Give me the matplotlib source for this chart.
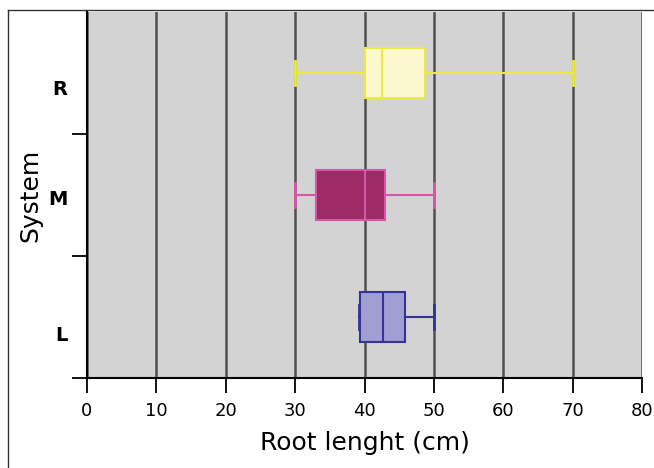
import numpy as np
import matplotlib.pyplot as plt
from matplotlib.lines import Line2D

# dados (cm)
sistemas = ['L', 'M', 'R']
whislo = [39.2, 30.0, 30.0]
q1 = [39.3, 33.0, 40.0]
med = [42.6, 40.0, 42.5]
q3 = [45.8, 43.0, 48.7]
whishi = [50.0, 50.0, 70.0]

cores_face = ['#9f9fd2', '#9c2b66', '#faf8cf']
cores_borda = ['#33339a', '#d657aa', '#ecea3c']

fig = plt.figure(figsize=(6.54, 4.68), dpi=100)
ax = fig.add_axes([0.133, 0.192, 0.849, 0.782])
ax.set_facecolor('#d3d3d3')

stats = []
for i in range(len(sistemas)):
    stats.append({'whislo': whislo[i], 'q1': q1[i], 'med': med[i],
                  'q3': q3[i], 'whishi': whishi[i], 'fliers': []})

pos = np.arange(len(sistemas))
bp = ax.bxp(stats, positions=pos, vert=False, widths=0.41, patch_artist=True,
            showfliers=False, zorder=3)
for i in range(len(sistemas)):
    bp['boxes'][i].set(facecolor=cores_face[i], edgecolor=cores_borda[i], linewidth=1.5)
    bp['medians'][i].set(color=cores_borda[i], linewidth=1.5)
    for w in bp['whiskers'][2*i:2*i+2]:
        w.set(color=cores_borda[i], linewidth=1.5)
    for c in bp['caps'][2*i:2*i+2]:
        c.set(color=cores_borda[i], linewidth=2)
        c.set_ydata([pos[i] - 0.1, pos[i] + 0.1])

ax.set_xlim(0, 80)
ax.set_ylim(-0.5, 2.5)
ax.set_xticks(np.arange(0, 81, 10))
ax.xaxis.grid(True, color='#505050', linewidth=1.8, zorder=1)
ax.set_axisbelow(True)

# ticks nas fronteiras, rotulos entre eles
ax.set_yticks([-0.5, 0.5, 1.5])
ax.set_yticklabels([])
ax.set_yticks([-0.13, 0.98, 1.88], minor=True)
ax.set_yticklabels(sistemas, minor=True, fontsize=14, fontweight='semibold')
ax.tick_params(axis='y', which='minor', length=0, pad=14)
ax.tick_params(axis='both', which='major', length=11, width=1.3, direction='out')
ax.tick_params(axis='x', labelsize=13, pad=6)

for s in ['top', 'right']:
    ax.spines[s].set_visible(False)
ax.spines['left'].set_linewidth(1.5)
ax.spines['bottom'].set_linewidth(1.5)

ax.set_xlabel('Root lenght (cm)', fontsize=18, labelpad=8)
ax.set_ylabel('System', fontsize=18)
ax.yaxis.set_label_coords(-0.08, 0.5)

# moldura da figura
fig.add_artist(Line2D([8/654, 1], [1 - 10/468, 1 - 10/468], color='#333333', linewidth=1))
fig.add_artist(Line2D([8/654, 8/654], [0, 1 - 10/468], color='#333333', linewidth=1))

fig.savefig('out.png', dpi=100)
